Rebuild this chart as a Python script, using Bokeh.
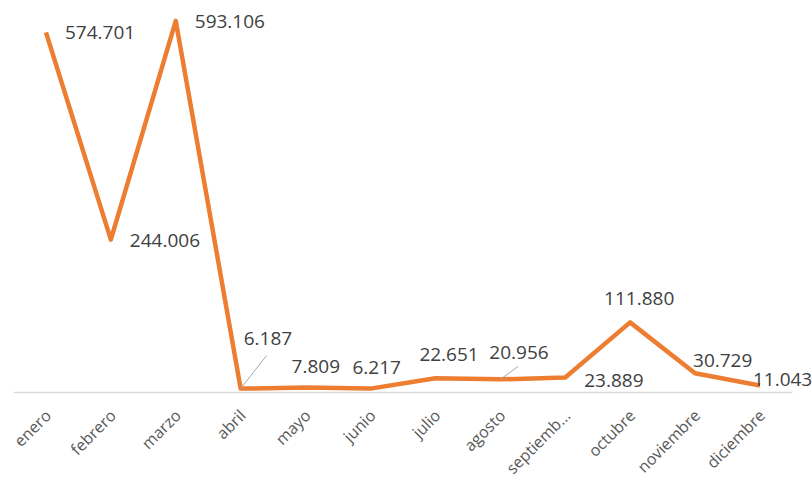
import math
from bokeh.plotting import figure
from bokeh.models import ColumnDataSource, Range1d
from bokeh.core.properties import value
from bokeh.embed import file_html
from bokeh.resources import INLINE

# ---- data ----
months = ["enero", "febrero", "marzo", "abril", "mayo", "junio", "julio",
          "agosto", "septiemb...", "octubre", "noviembre", "diciembre"]
values = [574701, 244006, 593106, 6187, 7809, 6217, 22651, 20956,
          23889, 111880, 30729, 11043]
value_labels = ["574.701", "244.006", "593.106", "6.187", "7.809", "6.217",
                "22.651", "20.956", "23.889", "111.880", "30.729", "11.043"]

# label placement (screen pixel offsets from each point)
label_dx = [19, 19, 19, 3, -14, -18, -16, -11, 19, -26, -2, -7]
label_dy = [0, 1, 1, -50, -21, -21, -24, -27, 3, -24, -13, -6]

xs = list(range(len(months)))
x_lo, x_hi = -0.5, len(months) - 0.5

# frame spans the whole picture; value 0 sits 392px from the top
top_val = 625500.0
px_per_val = 392.0 / top_val
bottom_val = -(481 - 392) / px_per_val

p = figure(width=812, height=481, output_backend="svg", toolbar_location=None,
           x_range=Range1d(x_lo, 11.81), y_range=Range1d(bottom_val, top_val),
           min_border_left=13, min_border_right=0, min_border_top=0,
           min_border_bottom=0)
p.outline_line_color = None
p.background_fill_color = "white"
p.border_fill_color = "white"
p.xgrid.visible = False
p.ygrid.visible = False
p.xaxis.visible = False
p.yaxis.visible = False

# category axis baseline
p.segment(x0=[x_lo], y0=[0], x1=[x_hi], y1=[0], line_color="#D9D9D9",
          line_width=1.5)

# category labels, rotated 45 degrees
csrc = ColumnDataSource(dict(x=xs, y=[0] * len(xs), m=months))
p.text("x", "y", text="m", source=csrc, x_offset=2, y_offset=20,
       angle=math.pi / 4, text_font=value("Open Sans"),
       text_font_size="16px", text_color="#595959",
       text_align="right", text_baseline="middle")

src = ColumnDataSource(dict(x=xs, y=values, lab=value_labels,
                            dx=label_dx, dy=label_dy))

p.line("x", "y", source=src, line_color="#ED7D31", line_width=4.5,
       line_join="round")

# leader lines for two labels
lsrc = ColumnDataSource(dict(x=[xs[3], xs[7]], y=[values[3], values[7]],
                             ang=[math.radians(52), math.radians(36)],
                             ln=[42, 22]))
p.ray("x", "y", length="ln", angle="ang", length_units="screen", source=lsrc,
      line_color="#A6A6A6", line_width=1)

p.text("x", "y", text="lab", source=src, x_offset="dx", y_offset="dy",
       text_font=value("Open Sans"), text_font_size="19px",
       text_color="#404040", text_align="left", text_baseline="middle")

open("out.html", "w").write(file_html(p, INLINE))
